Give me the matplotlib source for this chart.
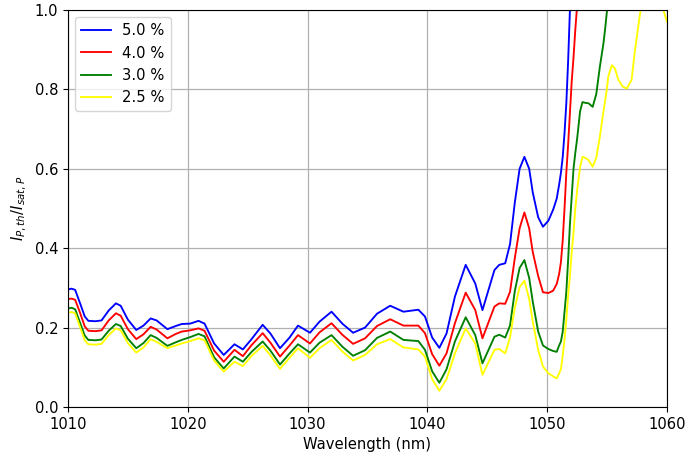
import numpy as np
import matplotlib
matplotlib.use("Agg")
import matplotlib.pyplot as plt

nan = np.nan

wavelength = [
    1010.0, 1010.3, 1010.6, 1011.0, 1011.4, 1011.7, 1012.3, 1012.8, 1013.4, 1014.0,
    1014.4, 1015.0, 1015.7, 1016.3, 1016.9, 1017.4, 1018.3, 1019.0, 1019.5, 1020.2,
    1020.9, 1021.4, 1022.2, 1023.0, 1023.9, 1024.6, 1025.3, 1026.25, 1026.9, 1027.7,
    1028.5, 1029.2, 1030.2, 1031.0, 1032.0, 1032.9, 1033.8, 1034.8, 1035.8, 1036.9,
    1038.0, 1039.25, 1039.8, 1040.4, 1041.0, 1041.6, 1042.3, 1043.2, 1044.0, 1044.6,
    1045.6, 1046.0, 1046.5, 1046.9, 1047.3, 1047.7, 1048.1, 1048.5, 1048.8, 1049.25,
    1049.65, 1050.1, 1050.5, 1050.8, 1051.0, 1051.15, 1051.3, 1051.45, 1051.6, 1051.75,
    1051.9, 1052.05, 1052.2, 1052.35, 1052.5, 1052.75, 1052.95, 1053.2, 1053.45, 1053.8,
    1054.1, 1054.4, 1054.7, 1054.85, 1055.0, 1055.1, 1055.4, 1055.65, 1055.95, 1056.3,
    1056.65, 1057.05, 1057.3, 1057.6, 1057.8, 1058.3, 1059.0, 1059.7, 1060.0,
]

ratio_5_0 = [
    0.296, 0.298, 0.295, 0.262, 0.228, 0.217, 0.216, 0.218, 0.243, 0.261,
    0.255, 0.220, 0.194, 0.205, 0.223, 0.218, 0.196, 0.204, 0.209, 0.210,
    0.217, 0.210, 0.160, 0.131, 0.158, 0.145, 0.170, 0.207, 0.185, 0.148,
    0.175, 0.205, 0.187, 0.215, 0.240, 0.210, 0.187, 0.200, 0.235, 0.255,
    0.240, 0.245, 0.228, 0.175, 0.149, 0.185, 0.278, 0.358, 0.311, 0.244,
    0.345, 0.358, 0.362, 0.410, 0.515, 0.600, 0.630, 0.600, 0.540, 0.478,
    0.454, 0.469, 0.497, 0.525, 0.560, 0.590, 0.630, 0.690, 0.765, 0.870,
    1.000, 1.120, nan, nan, nan, nan, nan, nan, nan, nan,
    nan, nan, nan, nan, nan, nan, nan, nan, nan, nan,
    nan, nan, nan, nan, nan, nan, nan, nan, nan,
]

ratio_4_0 = [
    0.272, 0.273, 0.270, 0.238, 0.203, 0.192, 0.191, 0.193, 0.218, 0.236,
    0.230, 0.196, 0.171, 0.183, 0.202, 0.195, 0.173, 0.184, 0.190, 0.193,
    0.198, 0.192, 0.142, 0.114, 0.144, 0.128, 0.155, 0.186, 0.162, 0.127,
    0.155, 0.181, 0.160, 0.188, 0.211, 0.182, 0.159, 0.173, 0.204, 0.221,
    0.205, 0.205, 0.186, 0.133, 0.104, 0.135, 0.211, 0.288, 0.244, 0.173,
    0.253, 0.261, 0.260, 0.290, 0.375, 0.450, 0.490, 0.450, 0.390, 0.330,
    0.289, 0.287, 0.293, 0.310, 0.335, 0.365, 0.420, 0.500, 0.590, 0.660,
    0.740, 0.820, 0.880, 0.950, 1.010, 1.100, nan, nan, nan, nan,
    nan, nan, nan, nan, nan, nan, nan, nan, nan, nan,
    nan, nan, nan, nan, nan, nan, nan, nan, nan,
]

ratio_3_0 = [
    0.248, 0.250, 0.246, 0.213, 0.180, 0.169, 0.168, 0.170, 0.192, 0.209,
    0.204, 0.172, 0.148, 0.161, 0.181, 0.174, 0.154, 0.163, 0.169, 0.176,
    0.184, 0.178, 0.125, 0.097, 0.127, 0.114, 0.138, 0.165, 0.142, 0.107,
    0.135, 0.158, 0.137, 0.162, 0.181, 0.152, 0.129, 0.143, 0.174, 0.190,
    0.169, 0.166, 0.144, 0.090, 0.061, 0.095, 0.165, 0.226, 0.181, 0.110,
    0.177, 0.182, 0.175, 0.205, 0.292, 0.350, 0.370, 0.325, 0.265, 0.190,
    0.155, 0.146, 0.141, 0.139, 0.155, 0.165, 0.190, 0.240, 0.290, 0.370,
    0.460, 0.530, 0.600, 0.640, 0.675, 0.745, 0.768, 0.766, 0.765, 0.756,
    0.788, 0.857, 0.916, 0.955, 1.000, 1.030, nan, nan, nan, nan,
    nan, nan, nan, nan, nan, nan, nan, nan, nan,
]

ratio_2_5 = [
    0.238, 0.239, 0.236, 0.202, 0.168, 0.158, 0.157, 0.159, 0.181, 0.198,
    0.193, 0.161, 0.137, 0.150, 0.171, 0.164, 0.148, 0.155, 0.160, 0.166,
    0.173, 0.168, 0.117, 0.089, 0.114, 0.103, 0.128, 0.154, 0.130, 0.096,
    0.124, 0.148, 0.124, 0.148, 0.169, 0.140, 0.117, 0.131, 0.158, 0.171,
    0.150, 0.145, 0.127, 0.070, 0.041, 0.070, 0.135, 0.198, 0.160, 0.081,
    0.144, 0.146, 0.135, 0.175, 0.250, 0.302, 0.318, 0.272, 0.215, 0.144,
    0.102, 0.085, 0.077, 0.072, 0.085, 0.095, 0.130, 0.170, 0.220, 0.280,
    0.330, 0.390, 0.440, 0.500, 0.545, 0.605, 0.630, 0.627, 0.622, 0.605,
    0.628, 0.681, 0.745, 0.773, 0.805, 0.832, 0.861, 0.853, 0.824, 0.807,
    0.802, 0.824, 0.891, 0.958, 1.000, 1.060, 1.080, 1.000, 0.970,
]

series_labels = ["5.0 %", "4.0 %", "3.0 %", "2.5 %"]
series_colors = ["blue", "red", "green", "yellow"]
x_ticks = [1010, 1020, 1030, 1040, 1050, 1060]
y_ticks = [0.0, 0.2, 0.4, 0.6, 0.8, 1.0]

plt.rcParams["font.size"] = 10.6

fig = plt.figure(figsize=(6.88, 4.59), dpi=100)
ax = fig.add_axes([0.0988, 0.1133, 0.8706, 0.865])

for vals, lab, col in zip([ratio_5_0, ratio_4_0, ratio_3_0, ratio_2_5],
                          series_labels, series_colors):
    ax.plot(wavelength, vals, color=col, label=lab, lw=1.35)

ax.set_xlim(1010, 1060)
ax.set_ylim(0.0, 1.0)
ax.set_xticks(x_ticks)
ax.set_yticks(y_ticks)
ax.set_yticklabels([f"{v:.1f}" for v in y_ticks])
ax.grid(True, color="#b0b0b0", lw=0.9)
ax.set_axisbelow(True)
ax.set_xlabel("Wavelength (nm)")
ax.set_ylabel(r"$I_{P,th}/I_{sat,P}$")
ax.legend(loc="upper left")

fig.savefig("out.png", dpi=100)
